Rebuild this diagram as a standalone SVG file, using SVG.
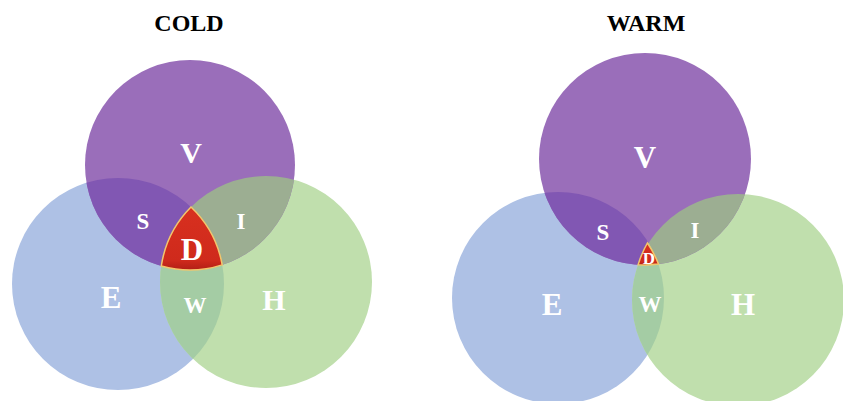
<svg xmlns="http://www.w3.org/2000/svg" width="843" height="401" viewBox="0 0 843 401">
<style>
.t{font-family:"Liberation Serif","Times New Roman",serif;font-weight:bold;text-anchor:middle}
.title{font-size:24px;fill:#000}
.lab{fill:#fff}
.v{fill:#9a6eba}.e{fill:#aec1e5}.h{fill:#c0dfad}
.s{fill:#8157b3}.i{fill:#9cae92}.w{fill:#a4cca4}
.d{fill:url(#red);stroke:#f2c66d;stroke-width:1.5}
</style>
<defs>
<linearGradient id="red" x1="0" y1="0" x2="0" y2="1">
<stop offset="0" stop-color="#d8301f"/>
<stop offset="0.85" stop-color="#cf2a1c"/>
<stop offset="1" stop-color="#b21f16"/>
</linearGradient>
<clipPath id="cE1"><circle cx="118" cy="284" r="106"/></clipPath>
<clipPath id="cH1"><circle cx="266" cy="282" r="106"/></clipPath>
<clipPath id="cE2"><circle cx="558" cy="298" r="106"/></clipPath>
<clipPath id="cH2"><circle cx="738" cy="300" r="106"/></clipPath>
</defs>
<rect width="843" height="401" fill="#fff"/>
<g id="cold">
<text class="t title" x="189" y="31">COLD</text>
<g id="cold-E"><circle class="e" cx="118" cy="284" r="106"/><text class="t lab" x="111" y="308" font-size="31">E</text></g>
<g id="cold-H"><circle class="h" cx="266" cy="282" r="106"/><text class="t lab" x="274" y="310" font-size="30">H</text></g>
<g id="cold-V"><circle class="v" cx="190" cy="165" r="105"/><text class="t lab" x="191" y="163" font-size="30">V</text></g>
<g id="cold-S"><circle class="s" cx="190" cy="165" r="105" clip-path="url(#cE1)"/><text class="t lab" x="143" y="229" font-size="23">S</text></g>
<g id="cold-I"><circle class="i" cx="190" cy="165" r="105" clip-path="url(#cH1)"/><text class="t lab" x="241" y="229" font-size="23">I</text></g>
<g id="cold-W"><circle class="w" cx="118" cy="284" r="106" clip-path="url(#cH1)"/><text class="t lab" x="195" y="313" font-size="23">W</text></g>
<g id="cold-D"><path class="d" d="M191,207 A106,106 0 0,0 161.3,266 A105,105 0 0,0 222.2,264.9 A106,106 0 0,0 191,207 Z"/><text class="t lab" x="192" y="260" font-size="31">D</text></g>
</g>
<g id="warm">
<text class="t title" x="646" y="31">WARM</text>
<g id="warm-E"><circle class="e" cx="558" cy="298" r="106"/><text class="t lab" x="552" y="315" font-size="31">E</text></g>
<g id="warm-H"><circle class="h" cx="738" cy="300" r="106"/><text class="t lab" x="743" y="315" font-size="31">H</text></g>
<g id="warm-V"><circle class="v" cx="645" cy="159" r="106"/><text class="t lab" x="645" y="168" font-size="31">V</text></g>
<g id="warm-S"><circle class="s" cx="645" cy="159" r="106" clip-path="url(#cE2)"/><text class="t lab" x="603" y="240" font-size="23">S</text></g>
<g id="warm-I"><circle class="i" cx="645" cy="159" r="106" clip-path="url(#cH2)"/><text class="t lab" x="695" y="238" font-size="23">I</text></g>
<g id="warm-W"><circle class="w" cx="558" cy="298" r="106" clip-path="url(#cH2)"/><text class="t lab" x="650" y="312" font-size="23">W</text></g>
<g id="warm-D"><path class="d" d="M647.4,243 A106,106 0 0,0 638.1,264.7 A106,106 0 0,0 658.5,264.1 A106,106 0 0,0 647.4,243 Z"/><text class="t lab" x="649" y="264" font-size="17">D</text></g>
</g>
</svg>
